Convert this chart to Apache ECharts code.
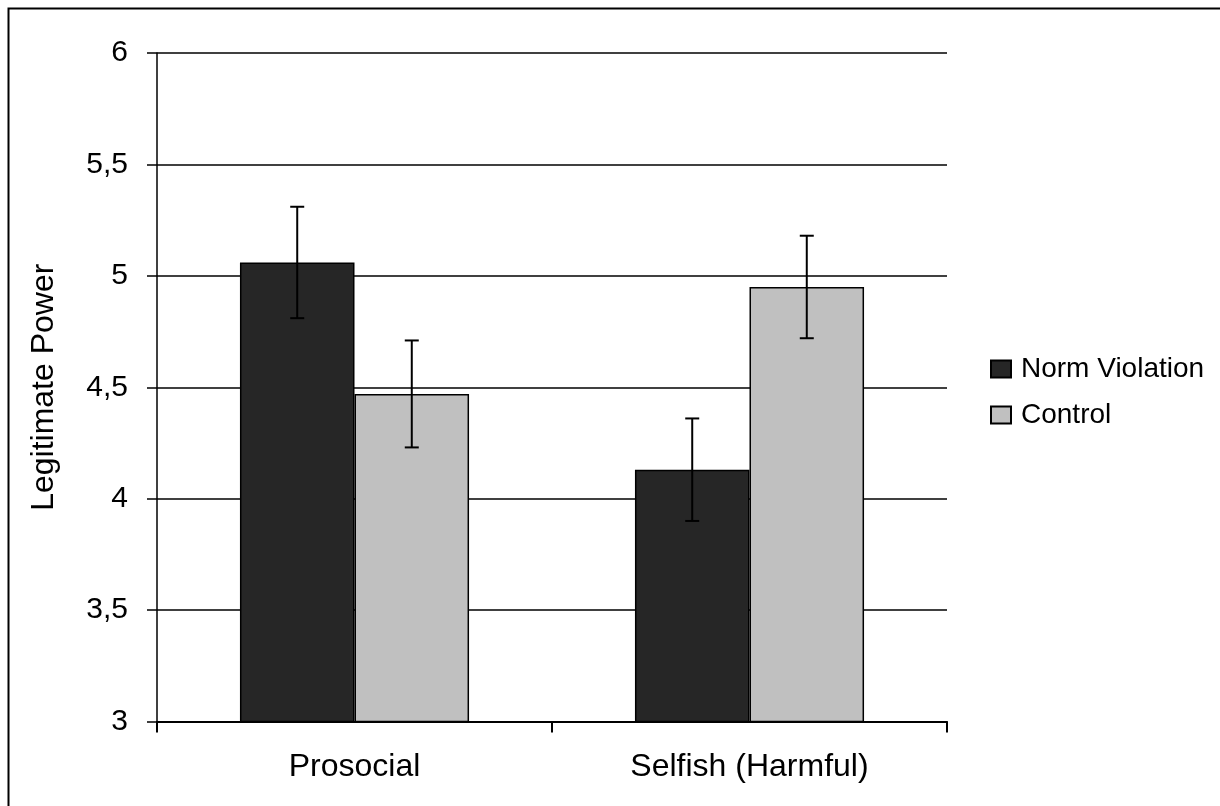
<!DOCTYPE html>
<html>
<head>
<meta charset="utf-8">
<script src="https://cdn.jsdelivr.net/npm/echarts@6/dist/echarts.min.js"></script>
<style>html,body{margin:0;padding:0;background:#fff}#c{width:1220px;height:806px}</style>
</head>
<body>
<div id="c"></div>
<script>
var categories = ['Prosocial', 'Selfish (Harmful)'];
var seriesNames = ['Norm Violation', 'Control'];
var normViolation = [5.06, 4.13];
var normViolationLow = [4.81, 3.90];
var normViolationHigh = [5.31, 4.36];
var control = [4.47, 4.95];
var controlLow = [4.23, 4.72];
var controlHigh = [4.71, 5.18];
var yTicks = [3, 3.5, 4, 4.5, 5, 5.5, 6];

var FONT = "'Liberation Sans', Arial, sans-serif";
var CAT_GAP = 0.42;

function errData(low, high) {
  return categories.map(function (c, i) { return [i, low[i], high[i]]; });
}
function errRender(side) {
  return function (params, api) {
    var ci = api.value(0);
    var lo = api.coord([ci, api.value(1)]);
    var hi = api.coord([ci, api.value(2)]);
    var catW = api.size([1, 0])[0];
    var bw = catW * (1 - CAT_GAP) / 2;
    var x = lo[0] + side * bw / 2;
    var cap = 7;
    var st = { stroke: '#000', lineWidth: 2 };
    return {
      type: 'group',
      children: [
        { type: 'line', shape: { x1: x, y1: lo[1], x2: x, y2: hi[1] }, style: st },
        { type: 'line', shape: { x1: x - cap, y1: lo[1], x2: x + cap, y2: lo[1] }, style: st },
        { type: 'line', shape: { x1: x - cap, y1: hi[1], x2: x + cap, y2: hi[1] }, style: st }
      ]
    };
  };
}

var chart = echarts.init(document.getElementById('c'));
chart.setOption({
  animation: false,
  backgroundColor: '#fff',
  textStyle: { fontFamily: FONT },
  graphic: [{
    type: 'rect',
    shape: { x: 8.5, y: 8.5, width: 1400, height: 1000 },
    style: { fill: null, stroke: '#000', lineWidth: 2 },
    silent: true, z: 100
  }],
  grid: { left: 157, top: 53, right: 273, bottom: 84.5, containLabel: false },
  legend: {
    data: seriesNames,
    orient: 'vertical',
    left: 990,
    top: 354,
    padding: 0,
    itemWidth: 20,
    itemHeight: 17,
    itemGap: 16,
    icon: 'rect',
    textStyle: { fontSize: 28, fontFamily: FONT, color: '#000', lineHeight: 30, padding: [0, 0, 0, 5] }
  },
  xAxis: {
    type: 'category',
    data: categories,
    axisLine: { lineStyle: { color: '#000', width: 2 } },
    axisTick: { show: true, length: 11, interval: 0, lineStyle: { color: '#000', width: 2 } },
    axisLabel: { fontSize: 32, color: '#000', margin: 30, fontFamily: FONT }
  },
  yAxis: {
    type: 'value',
    min: yTicks[0],
    max: yTicks[yTicks.length - 1],
    interval: 0.5,
    name: 'Legitimate Power',
    nameLocation: 'middle',
    nameGap: 97,
    nameRotate: 90,
    nameTextStyle: { fontSize: 32, color: '#000', fontFamily: FONT },
    axisLine: { show: true, lineStyle: { color: '#000', width: 1.5 } },
    axisTick: { show: true, length: 10, lineStyle: { color: '#000', width: 1.5 } },
    axisLabel: {
      fontSize: 30, color: '#000', margin: 29, fontFamily: FONT,
      formatter: function (v) { return String(v).replace('.', ','); }
    },
    splitLine: { show: true, lineStyle: { color: '#000', width: 1.5 } }
  },
  series: [
    {
      name: seriesNames[0], type: 'bar', data: normViolation,
      barGap: '0%', barCategoryGap: (CAT_GAP * 100) + '%',
      itemStyle: { color: '#262626', borderColor: '#000', borderWidth: 1.5 }
    },
    {
      name: seriesNames[1], type: 'bar', data: control,
      barGap: '0%', barCategoryGap: (CAT_GAP * 100) + '%',
      itemStyle: { color: '#c0c0c0', borderColor: '#000', borderWidth: 1.5 }
    },
    {
      type: 'custom', name: 'errNV', renderItem: errRender(-1),
      data: errData(normViolationLow, normViolationHigh), z: 10, silent: true
    },
    {
      type: 'custom', name: 'errC', renderItem: errRender(1),
      data: errData(controlLow, controlHigh), z: 10, silent: true
    }
  ]
});
</script>
</body>
</html>
